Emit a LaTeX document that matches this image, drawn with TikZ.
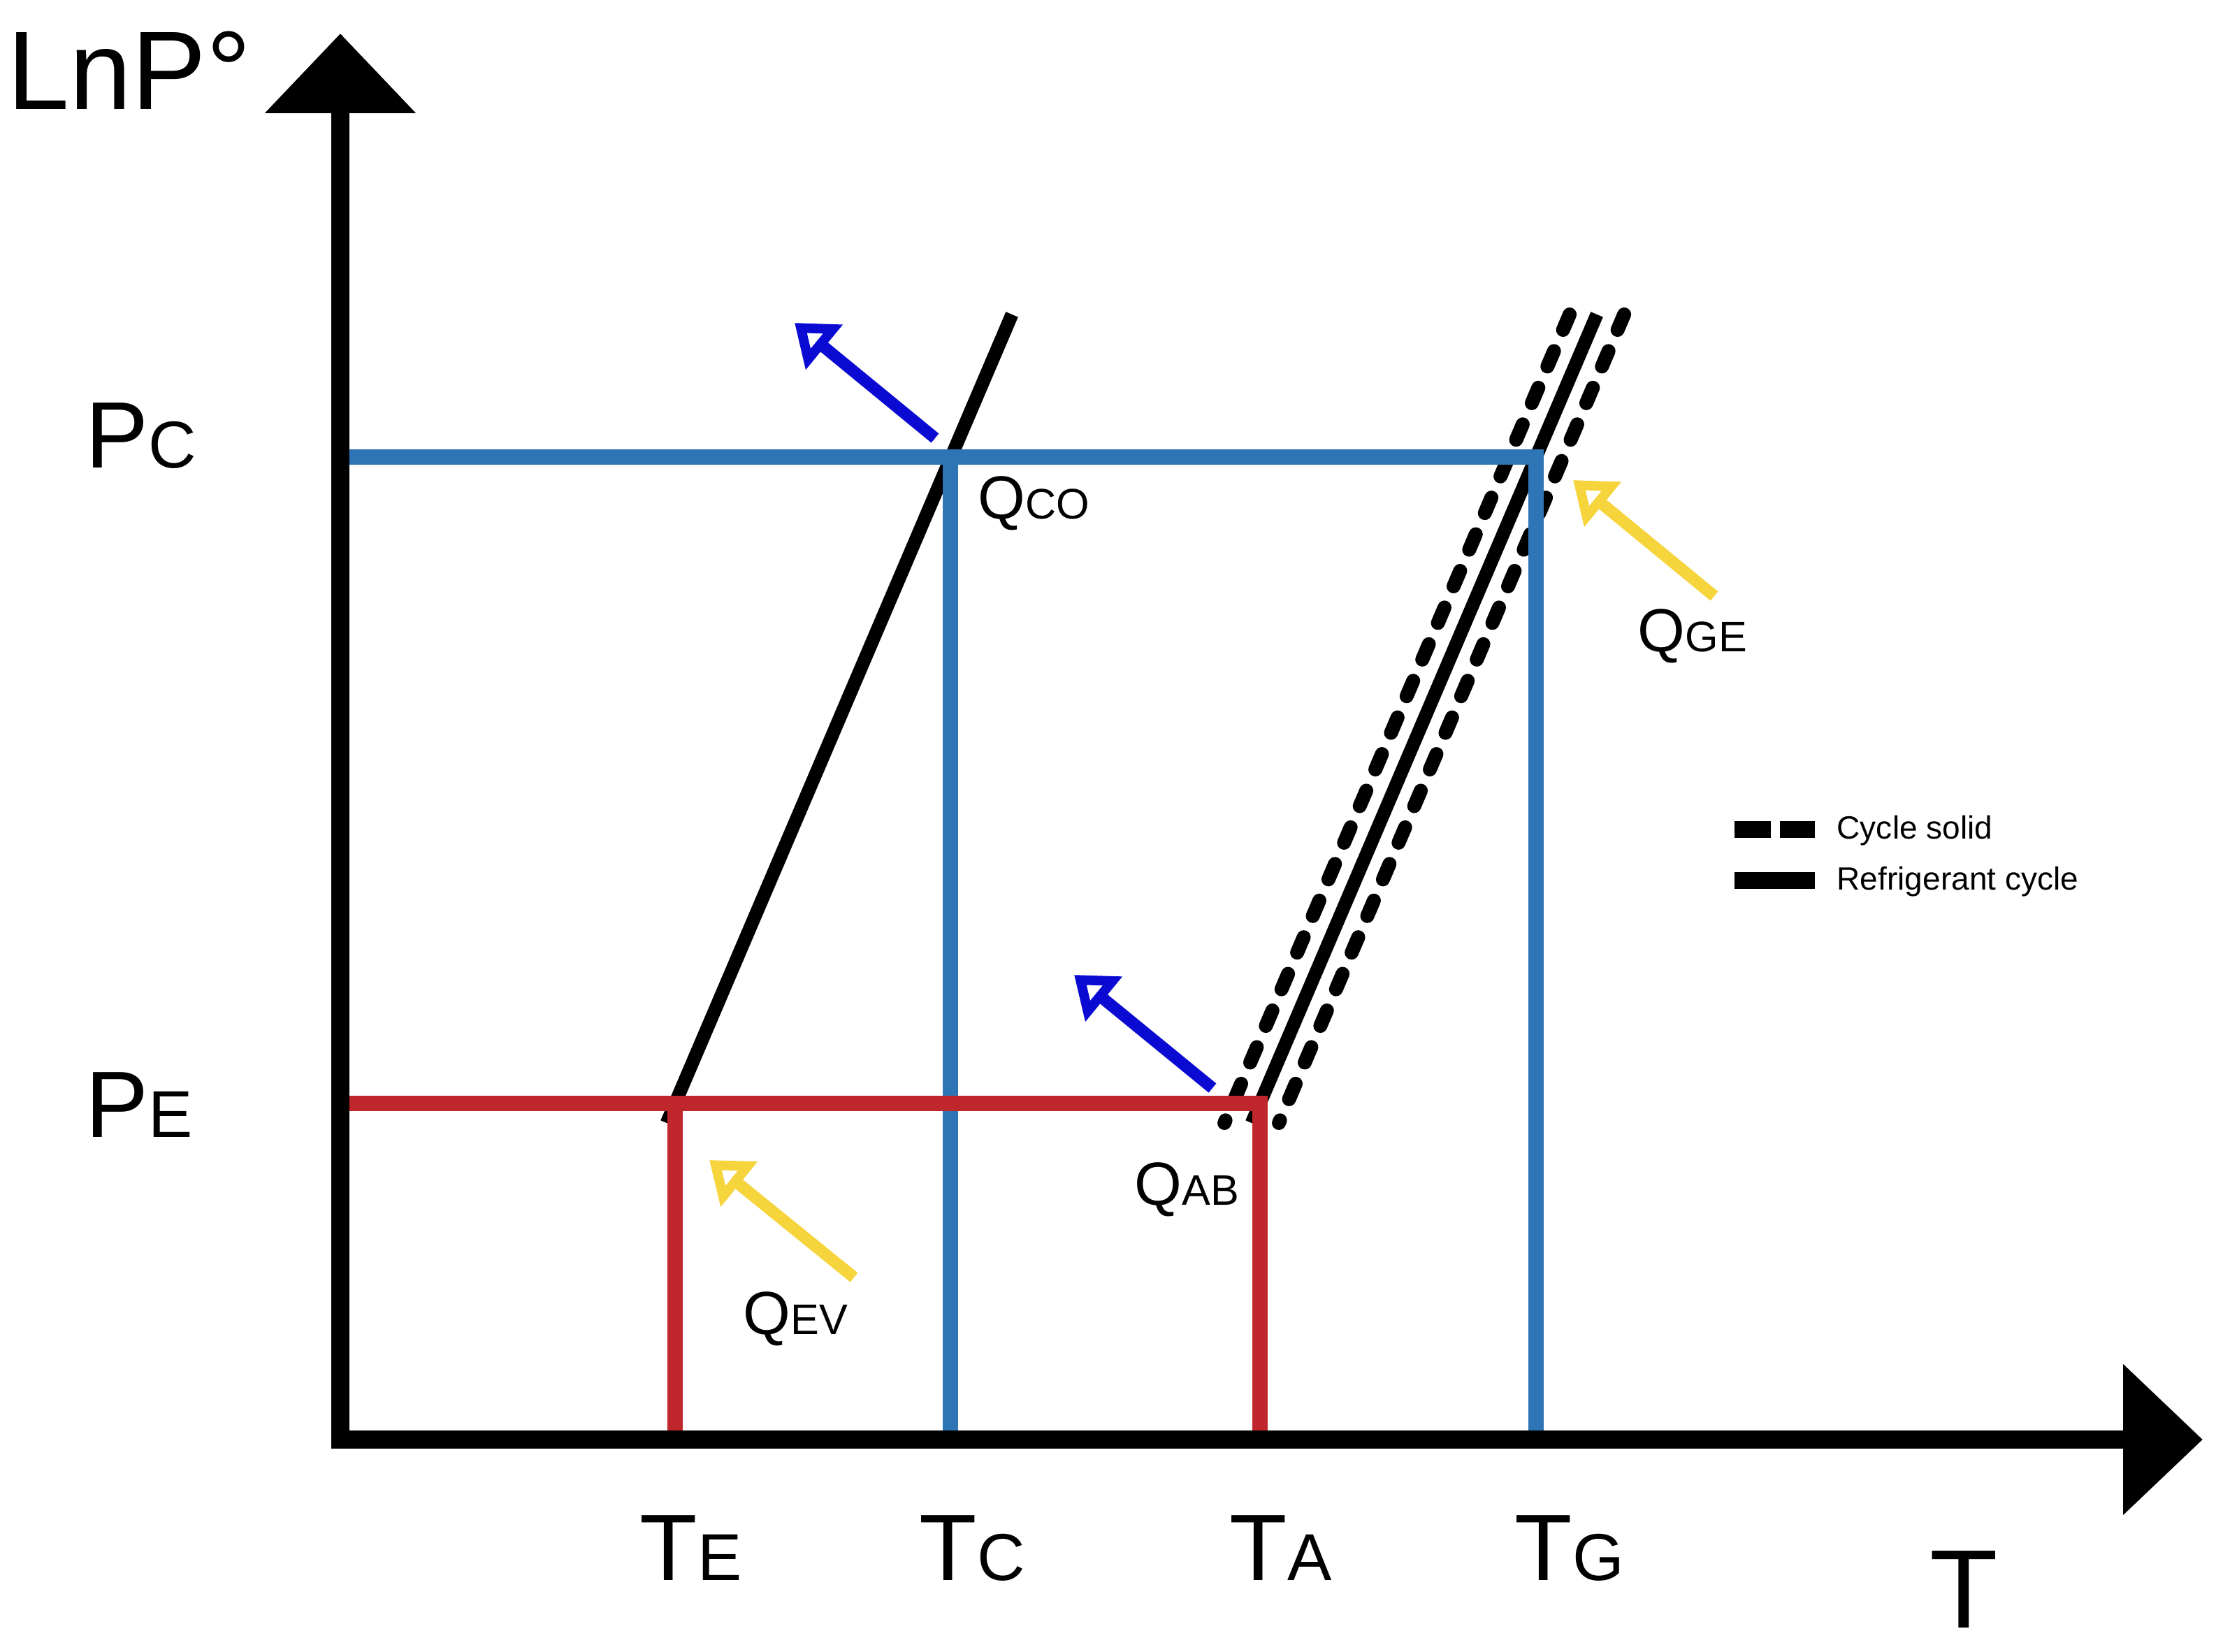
\documentclass[tikz,border=0pt]{standalone}
\usepackage{fontspec}
\setmainfont{Liberation Sans}
\usetikzlibrary{arrows.meta}

\definecolor{pblue}{HTML}{2E75B6}
\definecolor{pred}{HTML}{C0272D}
\definecolor{qblue}{HTML}{0A0AD2}
\definecolor{qyellow}{HTML}{F5D43C}

% big letter followed by a smaller one on the same baseline
\newcommand{\axlab}[2]{{\fontsize{38.4}{40}\selectfont #1}{\fontsize{27}{28}\selectfont #2}}
\newcommand{\heatlab}[1]{{\fontsize{24.8}{26}\selectfont Q}{\fontsize{17.4}{18}\selectfont #1}}

\begin{document}
\begin{tikzpicture}[
	axes/.style={line width=0.26cm, line join=miter,
		{Triangle[length=1.14cm,width=2.1cm]}-{Triangle[length=1.14cm,width=2.1cm]}},
	level/.style={line width=0.22cm, line join=miter},
	satline/.style={line width=0.19cm},
	solidcycle/.style={line width=0.2cm, line cap=round, dash pattern=on 0.24cm off 0.33cm},
	heat/.style={line width=0.17cm,
		-{Triangle[open,length=0.55cm,width=0.8cm,line width=0.22cm]}},
	lbl/.style={inner sep=0pt, anchor=base west}
	]
	\useasboundingbox (-4.87,-3.04) rectangle (26.84,20.60);
	
	\def\TE{4.79}
	\def\TC{8.73}
	\def\TA{13.16}
	\def\TG{17.11}
	\def\PE{4.81}
	\def\PC{14.06}
	\def\sl{0.427}% dx/dy of the pressure lines
	\def\ytop{16.10}
	\def\ybot{4.53}
	
	% refrigerant line through (TE,PE) and (TC,PC)
	\coordinate (refbot) at ({\TE-\sl*(\PE-\ybot)},\ybot);
	\coordinate (reftop) at ({\TE+\sl*(\ytop-\PE)},\ytop);
	\draw[satline] (refbot) -- (reftop);
	
	% solution line through (TA,PE) and (TG,PC), dashed ones either side
	\coordinate (solbot) at ({\TA-\sl*(\PE-\ybot)},\ybot);
	\coordinate (soltop) at ({\TA+\sl*(\ytop-\PE)},\ytop);
	\draw[satline] (solbot) -- (soltop);
	\foreach \o in {-0.39,0.39}{%
		\draw[solidcycle] ([xshift=\o cm]soltop) -- ([xshift=\o cm]solbot);
	}
	
	% cycle levels
	\coordinate (O) at (0,0);
	\coordinate (pcax) at (0,\PC);
	\coordinate (peax) at (0,\PE);
	\coordinate (tcax) at (\TC,0);
	\coordinate (teax) at (\TE,0);
	\coordinate (taax) at (\TA,0);
	\coordinate (tgax) at (\TG,0);
	\draw[level,pblue] (pcax) -- (pcax -| tgax) -- (tgax);
	\draw[level,pblue] (pcax -| tcax) -- (tcax);
	\draw[level,pred] (peax) -- (peax -| taax) -- (taax);
	\draw[level,pred] (peax -| teax) -- (teax);
	
	% axes
	\coordinate (ytip) at (0,20.12);
	\coordinate (xtip) at (26.65,0);
	\draw[axes] (ytip) -- (O) -- (xtip);
	
	% heat flows
	\coordinate (qcot) at (8.51,14.33);
	\coordinate (qcoh) at (6.50,15.98);
	\coordinate (qabt) at (12.48,5.03);
	\coordinate (qabh) at (10.50,6.65);
	\coordinate (qget) at (19.66,12.07);
	\coordinate (qgeh) at (17.64,13.73);
	\coordinate (qevt) at (7.35,2.32);
	\coordinate (qevh) at (5.28,4.00);
	\draw[heat,qblue] (qcot) -- (qcoh);
	\draw[heat,qblue] (qabt) -- (qabh);
	\draw[heat,qyellow] (qget) -- (qgeh);
	\draw[heat,qyellow] (qevt) -- (qevh);
	
	% labels
	\node[lbl] (lnp) at (-4.77,19.03) {\fontsize{45.5}{48}\selectfont LnP°};
	\node[lbl] (tax) at (22.74,-2.70) {\fontsize{45.5}{48}\selectfont T};
	\node[lbl] (pc) at (-3.65,13.90) {\axlab{P}{C}};
	\node[lbl] (pe) at (-3.65,4.32) {\axlab{P}{E}};
	\node[lbl] (te) at (4.28,-2.02) {\axlab{T}{E}};
	\node[lbl] (tc) at (8.28,-2.02) {\axlab{T}{C}};
	\node[lbl] (ta) at (12.72,-2.02) {\axlab{T}{A}};
	\node[lbl] (tg) at (16.80,-2.02) {\axlab{T}{G}};
	\node[lbl] (qco) at (9.12,13.17) {\heatlab{CO}};
	\node[lbl] (qge) at (18.56,11.27) {\heatlab{GE}};
	\node[lbl] (qab) at (11.36,3.35) {\heatlab{AB}};
	\node[lbl] (qev) at (5.76,1.50) {\heatlab{EV}};
	
	% legend
	\draw[line width=0.24cm] (19.95,8.73) -- (20.47,8.73) (20.60,8.73) -- (21.10,8.73);
	\draw[line width=0.24cm] (19.95,8.00) -- (21.10,8.00);
	\node[lbl] (legdash) at (21.41,8.59) {\fontsize{13.1}{15}\selectfont Cycle solid};
	\node[lbl] (legsolid) at (21.41,7.86) {\fontsize{13.1}{15}\selectfont Refrigerant cycle};
\end{tikzpicture}
\end{document}
